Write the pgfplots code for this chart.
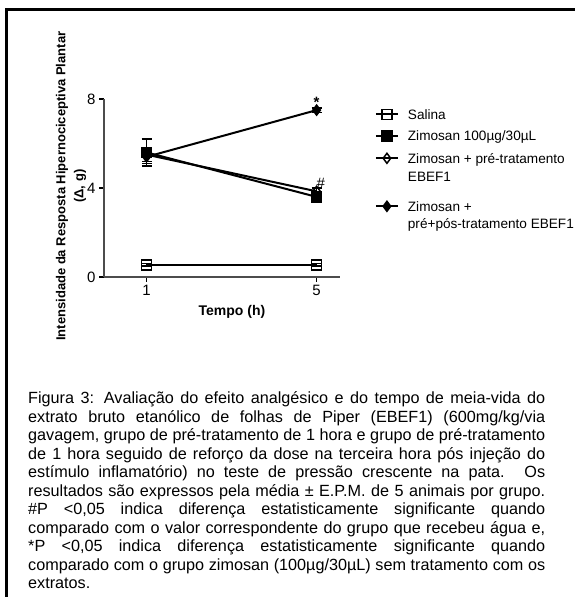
\documentclass[border=0pt]{standalone}
\usepackage{pgfplots}
\pgfplotsset{compat=1.18}
\usepackage{fontspec}
\setmainfont{Liberation Sans}
\newcommand\ls[1]{\rule[-4pt]{0pt}{\dimexpr#1+4pt\relax}}
\pgfplotstableread{
x y e
1 0.55 0.05
5 0.55 0.05
}\salina
\pgfplotstableread{
x y e
1 5.6 0.6
5 3.6 0.15
}\zimo
\pgfplotstableread{
x y e
1 5.5 0.3
5 3.85 0.15
}\pre
\pgfplotstableread{
x y e
1 5.4 0.3
5 7.5 0.1
}\prepos
\begin{document}
\begin{tikzpicture}
\path[use as bounding box] (0pt,0pt) rectangle (575pt,597pt);
\fill[white] (0pt,0pt) rectangle (575pt,597pt);
\draw[line width=3.5pt] (6.7pt,0pt) -- (6.7pt,587.5pt) -- (575pt,587.5pt);
\begin{axis}[
  at={(104pt,320pt)}, anchor=south west,
  scale only axis, width=236pt, height=178pt,
  xmin=0, xmax=5.55, ymin=0, ymax=8,
  axis x line*=bottom, axis y line*=left,
  axis line style={line width=1.3pt, black!70},
  xtick={1,5}, ytick={0,4,8},
  tick align=outside, major tick length=5pt,
  tick style={line width=1.3pt, black},
  /pgf/number format/assume math mode=true,
  tick label style={font=\fontsize{15}{18}\selectfont},
  xlabel={\bfseries Tempo (h)},
  xlabel style={at={(axis description cs:0.542,-0.197)}, anchor=center, font=\fontsize{14}{17}\selectfont},
  ylabel={\bfseries Intensidade da Resposta Hipernociceptiva Plantar\\\bfseries (Δ, g)},
  ylabel style={at={(axis description cs:-0.14,0.51)}, anchor=center, align=center, font=\fontsize{13}{18}\selectfont},
  legend style={at={(axis description cs:1.148,0.966)}, anchor=north west, draw=none, fill=none,
    font=\fontsize{13.6}{17}\selectfont, cells={anchor=base west, inner sep=0pt},
    row sep=0pt, column sep=7pt, inner sep=0pt, outer sep=0pt},
  legend image code/.code={\draw[yshift=4.8pt, mark repeat=2,mark phase=2,#1] plot coordinates {(0pt,0pt) (11pt,0pt) (22pt,0pt)};},
  clip=false,
]
\addplot[black, line width=2pt, mark size=5pt, mark=square, mark options={fill=white, line width=1.5pt, solid},
  error bars/.cd, y dir=both, y explicit, error bar style={line width=1.5pt},
  error mark options={rotate=90, mark size=5pt, line width=1.5pt}]
  table[x=x, y=y, y error=e] {\salina};
\addlegendentry{\ls{12pt}Salina}
\addplot[black, line width=2pt, mark size=5pt, mark=square*, mark options={fill=black, line width=1.5pt, solid},
  error bars/.cd, y dir=both, y explicit, error bar style={line width=1.5pt},
  error mark options={rotate=90, mark size=5pt, line width=1.5pt}]
  table[x=x, y=y, y error=e] {\zimo};
\addlegendentry{\ls{16pt}Zimosan 100µg/30µL}
\addplot[black, line width=2pt, mark size=5pt, mark=diamond, mark options={fill=white, line width=1.5pt, solid},
  error bars/.cd, y dir=both, y explicit, error bar style={line width=1.5pt},
  error mark options={rotate=90, mark size=5pt, line width=1.5pt}]
  table[x=x, y=y, y error=e] {\pre};
\addlegendentry{\ls{17pt}Zimosan + pré-tratamento}
\addlegendimage{empty legend}
\addlegendentry{\ls{13pt}EBEF1}
\addplot[black, line width=2pt, mark size=5pt, mark=diamond*, mark options={fill=black, line width=1.5pt, solid},
  error bars/.cd, y dir=both, y explicit, error bar style={line width=1.5pt},
  error mark options={rotate=90, mark size=5pt, line width=1.5pt}]
  table[x=x, y=y, y error=e] {\prepos};
\addlegendentry{\ls{24pt}Zimosan +}
\addlegendimage{empty legend}
\addlegendentry{\ls{12pt}pré+pós-tratamento EBEF1}
\node[font=\fontsize{15}{18}\selectfont\bfseries] at (axis cs:5,7.85) {*};
\node[font=\fontsize{15}{18}\selectfont] at (axis cs:5.1,4.2) {\#};
\end{axis}
\node[anchor=base west, inner sep=0pt] at (28pt,193pt) {\parbox[t]{517pt}{\fontsize{16.2}{18.5}\selectfont\setlength{\parindent}{0pt}%
\makebox[517pt][s]{Figura 3: Avaliação do efeito analgésico e do tempo de meia-vida do}\par
\makebox[517pt][s]{extrato bruto etanólico de folhas de Piper (EBEF1) (600mg/kg/via}\par
\makebox[517pt][s]{gavagem, grupo de pré-tratamento de 1 hora e grupo de pré-tratamento}\par
\makebox[517pt][s]{de 1 hora seguido de reforço da dose na terceira hora pós injeção do}\par
\makebox[517pt][s]{estímulo inflamatório) no teste de pressão crescente na pata. Os}\par
\makebox[517pt][s]{resultados são expressos pela média ± E.P.M. de 5 animais por grupo.}\par
\makebox[517pt][s]{\#P <0,05 indica diferença estatisticamente significante quando}\par
\makebox[517pt][s]{comparado com o valor correspondente do grupo que recebeu água e,}\par
\makebox[517pt][s]{*P <0,05 indica diferença estatisticamente significante quando}\par
\makebox[517pt][s]{comparado com o grupo zimosan (100µg/30µL) sem tratamento com os}\par
extratos.}};
\end{tikzpicture}
\end{document}
